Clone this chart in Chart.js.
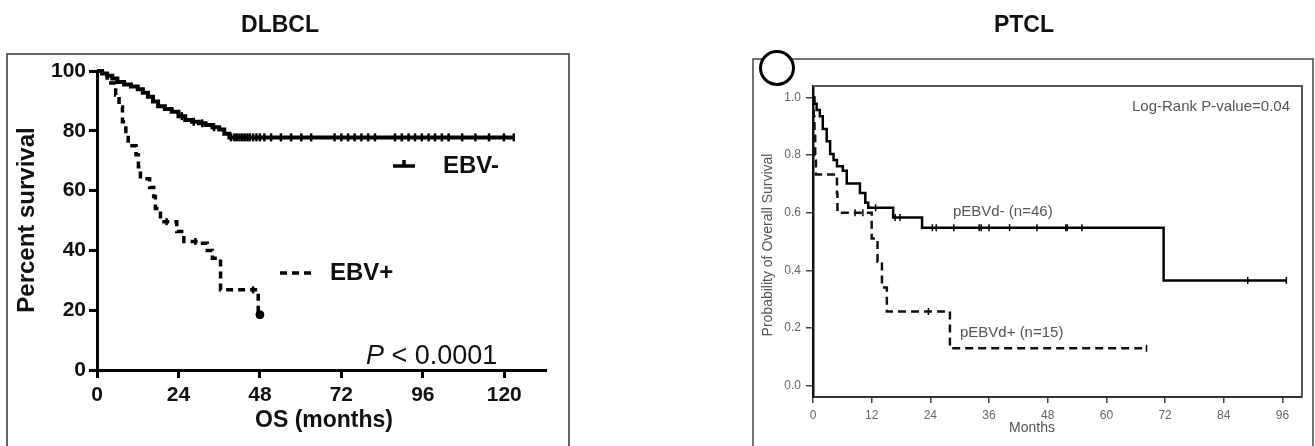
<!DOCTYPE html>
<html lang="en">
<head>
<meta charset="UTF-8">
<title>DLBCL / PTCL overall survival</title>
<script src="https://cdn.jsdelivr.net/npm/chart.js"></script>
<style>
    html, body { margin: 0; padding: 0; background: #fff; }
    body { width: 1315px; height: 446px; position: relative; overflow: hidden; }
    #left-wrap { position: absolute; left: 0; top: 0; width: 660px; height: 446px; }
    #right-wrap { position: absolute; left: 660px; top: 0; width: 655px; height: 446px; }
</style>
</head>
<body>
<div id="left-wrap"><canvas id="dlbcl-chart" width="660" height="446"></canvas></div>
<div id="right-wrap"><canvas id="ptcl-chart" width="655" height="446"></canvas></div>

<script>
// ---- DLBCL (left panel) ----
const dlbclXTicks = [0, 24, 48, 72, 96, 120];
const dlbclYTicks = [0, 20, 40, 60, 80, 100];

const ebvNegMonths = [0, 1.5, 3, 4.5, 6, 8, 10, 12, 13.5, 15, 16.5, 18, 20, 22, 24, 26, 28, 30, 32, 34, 36, 37.5, 39, 122.8];
const ebvNegSurv   = [100, 99.2, 98.4, 97.5, 96.3, 95.5, 94.8, 93.9, 92.7, 91.4, 89.8, 88.2, 87.3, 86.4, 84.9, 83.6, 83, 82.5, 81.9, 81.2, 80.4, 79, 77.8, 77.8];
const ebvNegCensor = [25, 28.5, 31, 34.5, 39.5, 40.5, 41.2, 42, 42.8, 43.5, 44.3, 45, 46, 47, 48, 49.3, 51.3, 54.2, 57.2, 60.2,
                      63.1, 70, 72, 74, 75.9, 77.9, 79.9, 81.9, 87.8, 89.8, 91.8, 93.7, 95.7, 97.7, 99.6, 101.6, 103.6,
                      107.6, 111.5, 115.5, 119.9, 122.8];

const ebvPosMonths = [0, 3, 5.5, 6.5, 7.5, 8.5, 9.2, 11.5, 12.2, 12.8, 15.5, 16.7, 17.2, 18.7, 23.5, 25.6, 30.5, 32.5, 34, 36.4, 47.5, 48];
const ebvPosSurv   = [100, 96, 92, 88, 83, 79, 75, 72, 68, 64, 61, 58, 54, 49.6, 46.3, 43, 42.4, 40, 37.4, 26.8, 18.5, 18.5];
const ebvPosCensor = [20.5, 29, 46];
const ebvPosLast   = [48];

// ---- PTCL (right panel) ----
const ptclXTicks = [0, 12, 24, 36, 48, 60, 72, 84, 96];
const ptclYTicks = [0, 0.2, 0.4, 0.6, 0.8, 1.0];

const negMonths = [0, 0.3, 0.75, 1.4, 2, 2.8, 3.5, 4.2, 4.9, 6.1, 6.9, 9.6, 10.7, 11.3, 16.4, 22.3, 71.7, 96.8];
const negSurv   = [1.0, 0.978, 0.957, 0.935, 0.891, 0.848, 0.804, 0.783, 0.761, 0.746, 0.701, 0.668, 0.635, 0.617, 0.583, 0.548, 0.365, 0.365];
const negCensor = [12.8, 16.8, 17.8, 24.4, 25.2, 28.8, 34, 34.4, 36, 40.2, 45.8, 51.7, 52, 55, 88.9, 96.8];

const posMonths = [0, 0.15, 0.3, 0.45, 0.6, 4.9, 5.0, 12.0, 13.2, 14.1, 15.1, 28, 68.2];
const posSurv   = [1.0, 0.933, 0.867, 0.8, 0.733, 0.667, 0.6, 0.51, 0.43, 0.34, 0.257, 0.129, 0.129];
const posCensor = [8.6, 10.2, 23.6, 68.2];

const FONT = "'Liberation Sans', Arial, Helvetica, sans-serif";
Chart.defaults.font.family = FONT;

function toPoints(xs, ys) {
    return xs.map((x, i) => ({ x: x, y: ys[i] }));
}

// value of a KM step curve at time t
function survivalAt(times, values, t) {
    let s = values[0];
    for (let i = 0; i < times.length; i++) {
        if (times[i] <= t) s = values[i];
    }
    return s;
}

function censorPoints(cens, times, values) {
    return cens.map(t => ({ x: t, y: survivalAt(times, values, t) }));
}

function fixedTicks(list) {
    return function (scale) { scale.ticks = list.map(v => ({ value: v })); };
}

// extra drawing for the left panel: frame, titles, legend, p-value
const dlbclDecor = {
    id: 'dlbclDecor',
    afterDraw(chart) {
        const ctx = chart.ctx;
        ctx.save();
        ctx.strokeStyle = '#333';
        ctx.lineWidth = 1.5;
        ctx.beginPath();
        ctx.moveTo(7, 460); ctx.lineTo(7, 54); ctx.lineTo(569, 54); ctx.lineTo(569, 460);
        ctx.stroke();

        ctx.fillStyle = '#111';
        ctx.textAlign = 'center';
        ctx.textBaseline = 'middle';
        ctx.font = 'bold 23px ' + FONT;
        ctx.fillText('DLBCL', 280, 26);

        ctx.font = 'bold 23px ' + FONT;
        ctx.fillText('OS (months)', 324, 421);

        ctx.save();
        ctx.translate(27, 220);
        ctx.rotate(-Math.PI / 2);
        ctx.font = 'bold 24px ' + FONT;
        ctx.fillText('Percent survival', 0, 0);
        ctx.restore();

        // legend
        ctx.strokeStyle = '#000';
        ctx.lineWidth = 3.5;
        ctx.setLineDash([]);
        ctx.beginPath();
        ctx.moveTo(393, 166); ctx.lineTo(415, 166);
        ctx.moveTo(404, 166); ctx.lineTo(404, 160);
        ctx.stroke();
        ctx.setLineDash([7, 5]);
        ctx.beginPath();
        ctx.moveTo(280, 273); ctx.lineTo(313, 273);
        ctx.stroke();
        ctx.setLineDash([]);

        ctx.textAlign = 'left';
        ctx.font = 'bold 24px ' + FONT;
        ctx.fillText('EBV-', 443, 166);
        ctx.fillText('EBV+', 330, 273);

        // p-value
        ctx.textBaseline = 'alphabetic';
        ctx.font = 'italic 27px ' + FONT;
        ctx.fillText('P', 366, 364);
        const pw = ctx.measureText('P').width;
        ctx.font = '27px ' + FONT;
        ctx.fillText(' < 0.0001', 366 + pw, 364);
        ctx.restore();
    }
};

// extra drawing for the right panel
const ptclDecor = {
    id: 'ptclDecor',
    afterDraw(chart) {
        const ctx = chart.ctx;
        const a = chart.chartArea;
        ctx.save();
        // plot frame top / right
        ctx.strokeStyle = '#555';
        ctx.lineWidth = 2;
        ctx.beginPath();
        ctx.moveTo(a.left, a.top); ctx.lineTo(a.right, a.top); ctx.lineTo(a.right, a.bottom);
        ctx.stroke();

        // outer frame
        ctx.strokeStyle = '#444';
        ctx.lineWidth = 1.5;
        ctx.beginPath();
        ctx.moveTo(93, 460); ctx.lineTo(93, 59); ctx.lineTo(653, 59); ctx.lineTo(653, 460);
        ctx.stroke();

        // circle mark
        ctx.beginPath();
        ctx.arc(117, 68, 16.5, 0, Math.PI * 2);
        ctx.fillStyle = '#fff';
        ctx.fill();
        ctx.strokeStyle = '#000';
        ctx.lineWidth = 3;
        ctx.stroke();

        ctx.fillStyle = '#111';
        ctx.textAlign = 'center';
        ctx.textBaseline = 'middle';
        ctx.font = 'bold 23px ' + FONT;
        ctx.fillText('PTCL', 364, 26);

        ctx.fillStyle = '#555';
        ctx.font = '14px ' + FONT;
        ctx.fillText('Months', 372, 428);

        ctx.save();
        ctx.translate(108, 245);
        ctx.rotate(-Math.PI / 2);
        ctx.font = '14px ' + FONT;
        ctx.fillText('Probability of Overall Survival', 0, 0);
        ctx.restore();

        ctx.font = '15px ' + FONT;
        ctx.textAlign = 'right';
        ctx.fillText('Log-Rank P-value=0.04', 630, 107);
        ctx.textAlign = 'left';
        ctx.fillText('pEBVd- (n=46)', 293, 212);
        ctx.fillText('pEBVd+ (n=15)', 300, 333);
        ctx.restore();
    }
};

new Chart(document.getElementById('dlbcl-chart'), {
    type: 'line',
    data: {
        datasets: [
            {
                label: 'EBV-',
                data: toPoints(ebvNegMonths, ebvNegSurv),
                stepped: true,
                borderColor: '#000',
                borderWidth: 4,
                pointRadius: 0,
                clip: false
            },
            {
                label: 'EBV- censored',
                data: censorPoints(ebvNegCensor, ebvNegMonths, ebvNegSurv),
                showLine: false,
                pointStyle: 'line',
                rotation: 90,
                pointRadius: 4,
                pointBorderWidth: 2.5,
                pointBorderColor: '#000',
                clip: false
            },
            {
                label: 'EBV+',
                data: toPoints(ebvPosMonths, ebvPosSurv),
                stepped: true,
                borderColor: '#000',
                borderWidth: 3.5,
                borderDash: [7, 5],
                pointRadius: 0,
                clip: false
            },
            {
                label: 'EBV+ censored',
                data: censorPoints(ebvPosCensor, ebvPosMonths, ebvPosSurv),
                showLine: false,
                pointStyle: 'line',
                rotation: 90,
                pointRadius: 3.5,
                pointBorderWidth: 2.5,
                pointBorderColor: '#000',
                clip: false
            },
            {
                label: 'EBV+ last',
                data: censorPoints(ebvPosLast, ebvPosMonths, ebvPosSurv),
                showLine: false,
                pointStyle: 'circle',
                pointRadius: 4,
                pointBackgroundColor: '#000',
                pointBorderColor: '#000',
                clip: false
            }
        ]
    },
    options: {
        responsive: false,
        animation: false,
        layout: { padding: { top: 71, right: 115, left: 0, bottom: 0 } },
        plugins: { legend: { display: false }, tooltip: { enabled: false } },
        scales: {
            x: {
                type: 'linear',
                min: 0,
                max: 132,
                afterBuildTicks: fixedTicks(dlbclXTicks),
                afterFit: s => { s.height = 76; },
                grid: { drawOnChartArea: false, color: '#000', lineWidth: 3, tickLength: 8 },
                border: { color: '#000', width: 3 },
                ticks: { color: '#111', font: { size: 21, weight: 'bold' }, padding: 5, maxRotation: 0 }
            },
            y: {
                type: 'linear',
                min: 0,
                max: 100,
                afterBuildTicks: fixedTicks(dlbclYTicks),
                afterFit: s => { s.width = 97; },
                grid: { drawOnChartArea: false, color: '#000', lineWidth: 3, tickLength: 8 },
                border: { color: '#000', width: 3 },
                ticks: { color: '#111', font: { size: 21, weight: 'bold' }, padding: 3 }
            }
        }
    },
    plugins: [dlbclDecor]
});

new Chart(document.getElementById('ptcl-chart'), {
    type: 'line',
    data: {
        datasets: [
            {
                label: 'pEBVd-',
                data: toPoints(negMonths, negSurv),
                stepped: true,
                borderColor: '#000',
                borderWidth: 2.5,
                pointRadius: 0,
                clip: false
            },
            {
                label: 'pEBVd- censored',
                data: censorPoints(negCensor, negMonths, negSurv),
                showLine: false,
                pointStyle: 'line',
                rotation: 90,
                pointRadius: 3.5,
                pointBorderWidth: 1.5,
                pointBorderColor: '#000',
                clip: false
            },
            {
                label: 'pEBVd+',
                data: toPoints(posMonths, posSurv),
                stepped: true,
                borderColor: '#111',
                borderWidth: 2.5,
                borderDash: [8, 5],
                pointRadius: 0,
                clip: false
            },
            {
                label: 'pEBVd+ censored',
                data: censorPoints(posCensor, posMonths, posSurv),
                showLine: false,
                pointStyle: 'line',
                rotation: 90,
                pointRadius: 3.5,
                pointBorderWidth: 1.5,
                pointBorderColor: '#000',
                clip: false
            }
        ]
    },
    options: {
        responsive: false,
        animation: false,
        layout: { padding: { top: 86, right: 13, left: 0, bottom: 0 } },
        plugins: { legend: { display: false }, tooltip: { enabled: false } },
        scales: {
            x: {
                type: 'linear',
                min: 0,
                max: 100,
                afterBuildTicks: fixedTicks(ptclXTicks),
                afterFit: s => { s.height = 49; },
                grid: { drawOnChartArea: false, color: '#444', lineWidth: 1.5, tickLength: 6 },
                border: { color: '#333', width: 2 },
                ticks: { color: '#666', font: { size: 12 }, padding: 5, maxRotation: 0 }
            },
            y: {
                type: 'linear',
                min: -0.04,
                max: 1.04,
                afterBuildTicks: fixedTicks(ptclYTicks),
                afterFit: s => { s.width = 153; },
                grid: { drawOnChartArea: false, color: '#444', lineWidth: 1.5, tickLength: 7 },
                border: { color: '#111', width: 2.5 },
                ticks: { color: '#666', font: { size: 12 }, padding: 5, callback: v => v.toFixed(1) }
            }
        }
    },
    plugins: [ptclDecor]
});
</script>
</body>
</html>
